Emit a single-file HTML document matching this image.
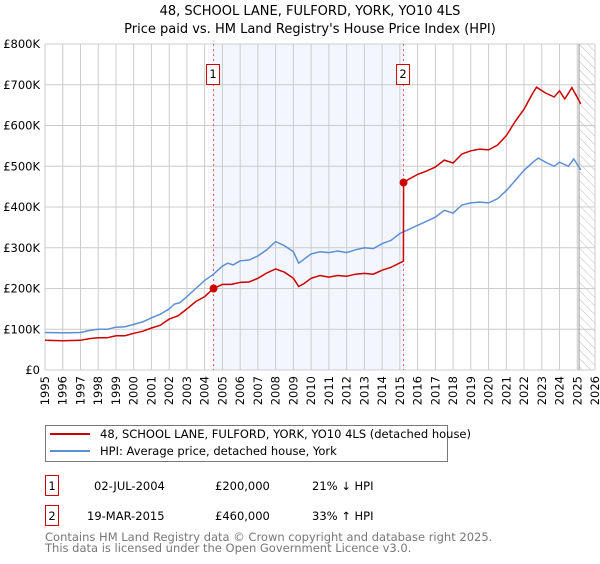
<!DOCTYPE html>
<html><head><meta charset="utf-8"><style>
body{margin:0;background:#fff;font-family:"DejaVu Sans","Liberation Sans",sans-serif;}
svg text{font-family:"DejaVu Sans","Liberation Sans",sans-serif;}
</style></head><body>
<svg id="c" width="600" height="560" xmlns="http://www.w3.org/2000/svg">
<defs><pattern id="hatch" width="6" height="6" patternUnits="userSpaceOnUse" patternTransform="rotate(-45)"><line x1="0" y1="0" x2="0" y2="6" stroke="#bbb" stroke-width="1"/></pattern></defs>
<text x="310" y="15" text-anchor="middle" font-size="13">48, SCHOOL LANE, FULFORD, YORK, YO10 4LS</text>
<text x="310" y="33" text-anchor="middle" font-size="13">Price paid vs. HM Land Registry's House Price Index (HPI)</text>
<g id="plot"></g>
<g>
<rect x="45.5" y="425.5" width="402" height="36" fill="#fff" stroke="#777"/>
<line x1="50" y1="434" x2="90" y2="434" stroke="#cc0000" stroke-width="2"/>
<text x="100" y="438" font-size="11.5">48, SCHOOL LANE, FULFORD, YORK, YO10 4LS (detached house)</text>
<line x1="50" y1="451" x2="90" y2="451" stroke="#5b8fd4" stroke-width="2"/>
<text x="100" y="455" font-size="11.5">HPI: Average price, detached house, York</text>
</g>
<g font-size="11.5">
<rect x="45.5" y="475.5" width="13" height="20" fill="#fff" stroke="#cc0000"/>
<text x="52" y="490" text-anchor="middle">1</text>
<text x="94" y="490">02-JUL-2004</text><text x="215" y="490">£200,000</text><text x="312" y="490">21% ↓ HPI</text>
<rect x="45.5" y="505.5" width="13" height="20" fill="#fff" stroke="#cc0000"/>
<text x="52" y="520" text-anchor="middle">2</text>
<text x="87" y="520">19-MAR-2015</text><text x="215" y="520">£460,000</text><text x="312" y="520">33% ↑ HPI</text>
</g>
<text x="45" y="541" font-size="11.5" fill="#777">Contains HM Land Registry data © Crown copyright and database right 2025.</text>
<text x="45" y="552" font-size="11.5" fill="#777">This data is licensed under the Open Government Licence v3.0.</text>
</svg>
<script>
const hpiYears=[1995,1996,1997,1997.5,1998,1998.5,1999,1999.5,2000,2000.5,2001,2001.5,2002,2002.3,2002.6,2003,2003.5,2004,2004.5,2005,2005.3,2005.6,2006,2006.5,2007,2007.5,2008,2008.5,2009,2009.3,2009.6,2010,2010.5,2011,2011.5,2012,2012.5,2013,2013.5,2014,2014.5,2015,2015.5,2016,2016.5,2017,2017.5,2018,2018.5,2019,2019.5,2020,2020.5,2021,2021.5,2022,2022.5,2022.8,2023.3,2023.7,2024,2024.5,2024.8,2025.2];
const hpiValues=[92,91,92,97,100,100,105,106,112,118,128,137,150,162,165,180,200,220,235,255,262,258,268,270,280,295,315,305,290,262,272,285,290,288,292,288,295,300,298,310,318,335,345,355,365,375,392,385,405,410,412,410,420,440,465,490,510,520,508,500,510,500,518,491];
const priceYears=[1995,1996,1997,1997.5,1998,1998.5,1999,1999.5,2000,2000.5,2001,2001.5,2002,2002.5,2003,2003.5,2004,2004.5,2005,2005.5,2006,2006.5,2007,2007.5,2008,2008.5,2009,2009.3,2009.6,2010,2010.5,2011,2011.5,2012,2012.5,2013,2013.5,2014,2014.5,2015.2,2015.21,2015.5,2016,2016.5,2017,2017.5,2018,2018.5,2019,2019.5,2020,2020.5,2021,2021.5,2022,2022.5,2022.7,2023.2,2023.7,2024,2024.3,2024.7,2025.2];
const priceValues=[73,72,73,77,79,79,84,84,90,95,103,110,125,133,150,168,180,200,210,210,215,216,225,238,248,240,225,205,212,225,232,228,232,230,235,237,235,245,252,267,460,468,480,488,498,515,508,530,538,542,540,552,575,610,640,680,694,680,670,685,665,693,653];
const saleYears=[2004.5,2015.21];
const saleValues=[200,460];
const saleLabels=["1","2"];
const yTicks=[0,100,200,300,400,500,600,700,800];
const yTickLabels=["£0","£100K","£200K","£300K","£400K","£500K","£600K","£700K","£800K"];
const xTicks=[1995,1996,1997,1998,1999,2000,2001,2002,2003,2004,2005,2006,2007,2008,2009,2010,2011,2012,2013,2014,2015,2016,2017,2018,2019,2020,2021,2022,2023,2024,2025,2026];

const X0=45,X1=595,Y0=370,Y1=44;
const xs=y=>X0+(y-1995)/(2026-1995)*(X1-X0);
const ys=v=>Y0-v/800*(Y0-Y1);
const NS="http://www.w3.org/2000/svg";
const g=document.getElementById('plot');
function mk(t,a,p){const e=document.createElementNS(NS,t);for(const k in a)e.setAttribute(k,a[k]);(p||g).appendChild(e);return e;}
let e;
e=mk('rect',{x:xs(saleYears[0]),y:Y1,width:xs(saleYears[1])-xs(saleYears[0]),height:Y0-Y1,fill:'#f3f6fe'});


e=mk('rect',{x:xs(2025.1),y:Y1,width:X1-xs(2025.1),height:Y0-Y1,fill:'url(#hatch)'});


xTicks.forEach((t,i)=>{
  e=mk('line',{x1:xs(t),x2:xs(t),y1:Y1,y2:Y0,stroke:'#ccc','stroke-width':1});
  
  
  const tx=mk('text',{x:0,y:0,'font-size':11.5,'text-anchor':'end',transform:`translate(${xs(t)+4},${Y0+6}) rotate(-90)`});
  tx.textContent=t;
  
  
});
yTicks.forEach((t,i)=>{
  e=mk('line',{x1:X0,x2:X1,y1:ys(t),y2:ys(t),stroke:'#ccc','stroke-width':1});
  
  
  const tx=mk('text',{x:X0-5,y:ys(t)+4,'font-size':11.5,'text-anchor':'end'});
  tx.textContent=yTickLabels[i];
  
  
});
e=mk('line',{x1:xs(2025.1),x2:xs(2025.1),y1:Y1,y2:Y0,stroke:'#999','stroke-width':1});


saleYears.forEach((s,i)=>{
  e=mk('line',{x1:xs(s),x2:xs(s),y1:Y1,y2:Y0,stroke:'#ee5555','stroke-width':1,'stroke-dasharray':'2,3'});
  
  
  e=mk('rect',{x:xs(s)-7,y:64.5,width:13,height:20,fill:'#fff',stroke:'#cc0000'});
  
  
  const tx=mk('text',{x:xs(s)-0.5,y:78,'font-size':11.5,'text-anchor':'middle'});
  tx.textContent=saleLabels[i];
  
  
});
function pts(xa,va){return xa.map((x,i)=>xs(x).toFixed(1)+','+ys(va[i]).toFixed(1)).join(' ');}
e=mk('polyline',{points:pts(hpiYears,hpiValues),fill:'none',stroke:'#5b8fd4','stroke-width':1.5});


e=mk('polyline',{points:pts(priceYears,priceValues),fill:'none',stroke:'#cc0000','stroke-width':1.5});


saleYears.forEach((s,i)=>{
  e=mk('circle',{cx:xs(s),cy:ys(saleValues[i]),r:4,fill:'#cc0000'});
  
  
});
</script>
</body></html>
